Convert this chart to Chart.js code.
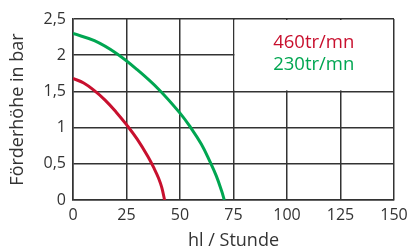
<!DOCTYPE html>
<html><head><meta charset="utf-8">
<script src="https://cdn.jsdelivr.net/npm/chart.js@4"></script>
<style>html,body{margin:0;padding:0;background:#fff}#w{width:408px;height:247px}</style>
</head><body><div id="w"><canvas id="c"></canvas></div>
<script>
const seriesNames = ['460tr/mn', '230tr/mn'];
const redX = [0, 5, 10, 15, 20, 25, 30, 35, 38, 40, 41.5, 42.8];
const redY = [1.68, 1.615, 1.51, 1.38, 1.22, 1.04, 0.84, 0.6, 0.43, 0.3, 0.17, 0];
const greenX = [0, 10, 20, 30, 40, 50, 55, 60, 64, 67, 69.5, 70.7];
const greenY = [2.3, 2.2, 2.03, 1.8, 1.53, 1.2, 1.0, 0.77, 0.53, 0.33, 0.12, 0];
const xTicks = [0, 25, 50, 75, 100, 125, 150];
const yTicks = [0, 0.5, 1, 1.5, 2, 2.5];
const xTitle = 'hl / Stunde';
const yTitle = 'Förderhöhe in bar';
const colors = ['#c8102e', '#00a651'];
const FONT = "'Open Sans', sans-serif";

const pts = (xs, ys) => xs.map((x, i) => ({x, y: ys[i]}));

const boxPlugin = {
  id: 'legendBox',
  beforeDatasetsDraw(chart) {
    const {ctx, scales: {x, y}} = chart;
    const l = x.getPixelForValue(75), r = x.getPixelForValue(150);
    const t = y.getPixelForValue(2.5), b = y.getPixelForValue(1.5);
    ctx.save();
    ctx.fillStyle = '#fff';
    ctx.fillRect(l + 1, t + 1, r - l - 2, b - t - 2);
    ctx.font = '18.5px ' + FONT;
    ctx.textAlign = 'center';
    ctx.textBaseline = 'middle';
    const cx = (l + r) / 2;
    seriesNames.forEach((n, i) => {
      ctx.fillStyle = colors[i];
      ctx.fillText(n, cx, t + 24 + i * 22);
    });
    ctx.restore();
  }
};

new Chart(document.getElementById('c'), {
  type: 'line',
  data: {
    datasets: [
      {label: seriesNames[0], data: pts(redX, redY), borderColor: colors[0], borderWidth: 3, pointRadius: 0, tension: 0.4, fill: false},
      {label: seriesNames[1], data: pts(greenX, greenY), borderColor: colors[1], borderWidth: 3, pointRadius: 0, tension: 0.4, fill: false}
    ]
  },
  options: {
    responsive: true, maintainAspectRatio: false, animation: false,
    layout: {padding: {top: 19, right: 14, left: 0, bottom: 0}},
    plugins: {legend: {display: false}, tooltip: {enabled: false}},
    scales: {
      x: {
        type: 'linear', min: 0, max: 150,
        afterBuildTicks: s => { s.ticks = xTicks.map(v => ({value: v})); },
        afterFit: s => { s.height = 47; s.paddingRight = 0; s.paddingLeft = 0; },
        grid: {color: '#333', lineWidth: 1.5, drawTicks: false},
        border: {color: '#333', width: 1.5},
        ticks: {color: '#333', font: {family: FONT, size: 16}, padding: 6, maxRotation: 0},
        title: {display: true, text: xTitle, color: '#333', font: {family: FONT, size: 18, lineHeight: 12 / 18}, padding: 0}
      },
      y: {
        type: 'linear', min: 0, max: 2.5,
        afterBuildTicks: s => { s.ticks = yTicks.map(v => ({value: v})); },
        afterFit: s => { s.width = 73; s.paddingTop = 0; s.paddingBottom = 0; },
        grid: {color: '#333', lineWidth: 1.5, drawTicks: false},
        border: {color: '#333', width: 1.5},
        ticks: {color: '#333', font: {family: FONT, size: 16}, padding: 7,
          callback: v => String(v).replace('.', ',')},
        title: {display: true, text: yTitle, color: '#333', font: {family: FONT, size: 18, lineHeight: 36 / 18}, padding: 0}
      }
    }
  },
  plugins: [boxPlugin]
});
</script>
</body></html>
